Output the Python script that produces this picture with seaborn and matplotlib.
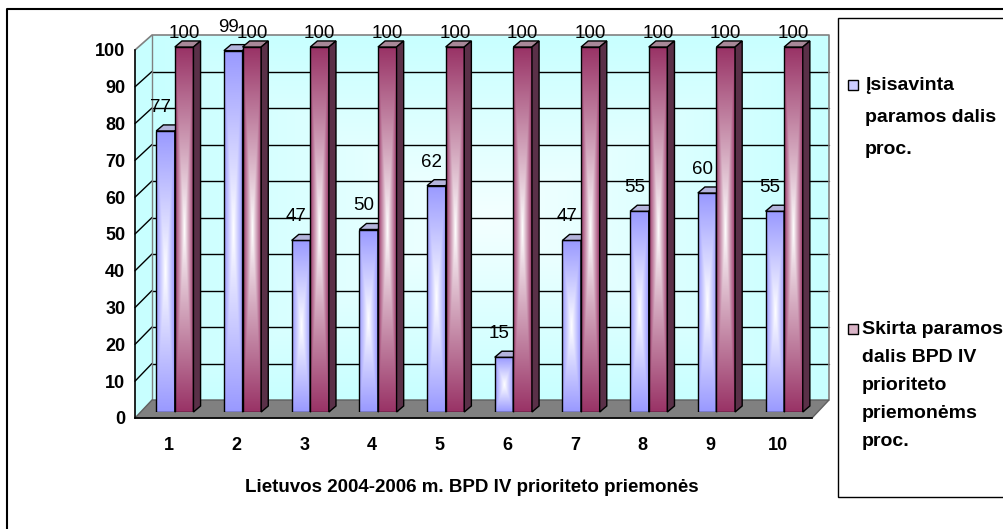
import numpy as np
import pandas as pd
import matplotlib
matplotlib.use("Agg")
import matplotlib.pyplot as plt
import seaborn as sns
from matplotlib.patches import Polygon, Rectangle
from matplotlib.colors import to_rgb

# data
categories = ["1", "2", "3", "4", "5", "6", "7", "8", "9", "10"]
absorbed = [77, 99, 47, 50, 62, 15, 47, 55, 60, 55]
allocated = [100, 100, 100, 100, 100, 100, 100, 100, 100, 100]
series_names = ["Įsisavinta paramos dalis proc.",
                "Skirta paramos dalis BPD IV prioriteto priemonėms proc."]
legend_lines = [["Įsisavinta", "paramos dalis", "proc."],
                ["Skirta paramos", "dalis BPD IV", "prioriteto", "priemonėms", "proc."]]
y_ticks = [0, 10, 20, 30, 40, 50, 60, 70, 80, 90, 100]
xlabel = "Lietuvos 2004-2006 m. BPD IV prioriteto priemonės"

colors = ["#9999FF", "#993366"]
top_colors = ["#b4b4dc", "#a88898"]
side_colors = ["#6a6aa0", "#5a3048"]

df = pd.DataFrame({
    "cat": categories * 2,
    "series": [series_names[0]] * 10 + [series_names[1]] * 10,
    "value": absorbed + allocated,
})

sns.set_style("white")
plt.rcParams["font.family"] = ["Liberation Sans", "DejaVu Sans"]
plt.rcParams["text.color"] = "black"
plt.rcParams["xtick.labelcolor"] = "black"
plt.rcParams["ytick.labelcolor"] = "black"

W, H = 1004, 529
fig = plt.figure(figsize=(W / 100, H / 100), dpi=100)


def rect(l, t, r, b):
    return [l / W, 1 - b / H, (r - l) / W, (b - t) / H]


def center_gradient(base, light, nx=60, ny=200):
    u = np.abs(np.linspace(-1, 1, nx))
    v = np.abs(np.linspace(-1, 1, ny))
    t = np.maximum(u[None, :], v[:, None])[..., None]
    b = np.array(to_rgb(base))
    l = np.array(to_rgb(light))
    return l + (b - l) * t


# background: walls and floor in pixel coordinates
bg = fig.add_axes([0, 0, 1, 1])
bg.set_xlim(0, W)
bg.set_ylim(H, 0)
bg.axis("off")

fx0, fx1, fy0, fsc = 135, 812, 418, 3.68   # front plane
bx0, bx1, by0, bsc = 152, 829, 400, 3.65   # back wall

bg.imshow(center_gradient("#c8ffff", "#f4ffff"), extent=(bx0, bx1, by0, by0 - 100 * bsc),
          aspect="auto", zorder=0)
bg.add_patch(Polygon([(fx0, fy0 - 100 * fsc), (bx0, by0 - 100 * bsc), (bx0, by0), (fx0, fy0)],
                     closed=True, facecolor="#c8ffff", edgecolor="none", zorder=0.5))
for v in y_ticks[1:-1]:
    yb = by0 - v * bsc
    yf = fy0 - v * fsc
    bg.plot([bx0, bx1], [yb, yb], color="black", lw=1, zorder=1)
    bg.plot([fx0, bx0], [yf, yb], color="black", lw=1, zorder=1)
top_b = by0 - 100 * bsc
bg.plot([fx0, bx0, bx1, bx1], [fy0 - 100 * fsc, top_b, top_b, by0], color="#808080", lw=1.2, zorder=1)
bg.plot([bx0, bx0], [top_b, by0], color="#808080", lw=1, zorder=1)
bg.add_patch(Polygon([(fx0, fy0), (fx1, fy0), (bx1, by0), (bx0, by0)], closed=True,
                     facecolor="#808080", edgecolor="#606060", lw=1, zorder=1.5))

# outer frame and legend box
bg.plot([7, 7, W + 5], [H + 5, 9, 9], color="black", lw=1.5, zorder=3)
bg.add_patch(Rectangle((838, 18), 200, 479, facecolor="white", edgecolor="black", lw=1, zorder=3))

legend_fill = ["#ccccff", "#d9b3c6"]
legend_y = [[85, 117, 149], [329, 357, 385, 413, 441]]
legend_x = [865, 862]
for i in range(2):
    y0 = legend_y[i][0]
    bg.add_patch(Rectangle((848, y0 - 5), 10, 10, facecolor=legend_fill[i],
                           edgecolor="black", lw=1, zorder=4))
    for line, yy in zip(legend_lines[i], legend_y[i]):
        bg.text(legend_x[i], yy, line, fontsize=14, fontweight="bold", va="center",
                ha="left", color="black", zorder=4)

bg.text(472, 488, xlabel, fontsize=13.5, fontweight="bold", ha="center", va="center",
        color="black")

# bars
axb = fig.add_axes(rect(fx0 + 6, 47, fx1 + 6, 412))
axb.patch.set_alpha(0)
sns.barplot(data=df, x="cat", y="value", hue="series", palette=colors, width=0.55,
            dodge=True, legend=False, ax=axb)
axb.set_xlim(-0.5, 9.5)
axb.set_ylim(0, 100)
axb.axis("off")

dx, dy = 0.105, 1.65
for s, cont in enumerate(axb.containers):
    z = 2 + 2 * s
    for bar in cont:
        x0 = bar.get_x()
        x1 = x0 + bar.get_width()
        h = bar.get_height()
        im = axb.imshow(center_gradient(colors[s], "#ffffff"), extent=(x0, x1, 0, h),
                        aspect="auto", zorder=z, clip_on=False)
        im.set_clip_path(bar)
        bar.set_facecolor("none")
        bar.set_edgecolor("black")
        bar.set_linewidth(1)
        bar.set_zorder(z + 0.1)
        axb.add_patch(Polygon([(x0, h), (x1, h), (x1 + dx, h + dy), (x0 + dx, h + dy)],
                              closed=True, facecolor=top_colors[s], edgecolor="black",
                              lw=1, zorder=z + 0.2, clip_on=False))
        axb.add_patch(Polygon([(x1, 0), (x1, h), (x1 + dx, h + dy), (x1 + dx, dy)],
                              closed=True, facecolor=side_colors[s], edgecolor="black",
                              lw=1, zorder=z + 0.2, clip_on=False))
        off = (-5, 9) if s == 0 else (0, -1)
        axb.annotate(f"{h:.0f}", (x0 + bar.get_width() / 2, h + dy), xytext=off,
                     textcoords="offset pixels", ha="center", va="bottom",
                     fontsize=13.5, color="black", zorder=6, annotation_clip=False)
axb.set_xlim(-0.5, 9.5)
axb.set_ylim(0, 100)

# front axis with ticks
ax = fig.add_axes(rect(fx0, fy0 - 100 * fsc, fx1, fy0))
ax.patch.set_alpha(0)
ax.set_xlim(-0.5, 9.5)
ax.set_ylim(0, 100)
ax.set_xticks(range(len(categories)))
ax.set_xticklabels(categories, fontsize=13, fontweight="bold", color="black")
ax.set_xticks(np.arange(0.5, 9.5, 1), minor=True)
ax.tick_params(axis="x", which="major", length=0, pad=14)
ax.tick_params(axis="x", which="minor", length=5, width=1, direction="out", color="black")
ax.set_yticks(y_ticks)
ax.set_yticklabels([str(v) for v in y_ticks], fontsize=13, fontweight="bold", color="black")
ax.tick_params(axis="y", length=5, width=1, direction="out", color="black", pad=2)
for side in ["top", "right"]:
    ax.spines[side].set_visible(False)
for side in ["left", "bottom"]:
    ax.spines[side].set_color("black")
    ax.spines[side].set_linewidth(1.2)
ax.set_xlabel("")
ax.set_ylabel("")

fig.savefig("out.png", dpi=100)
